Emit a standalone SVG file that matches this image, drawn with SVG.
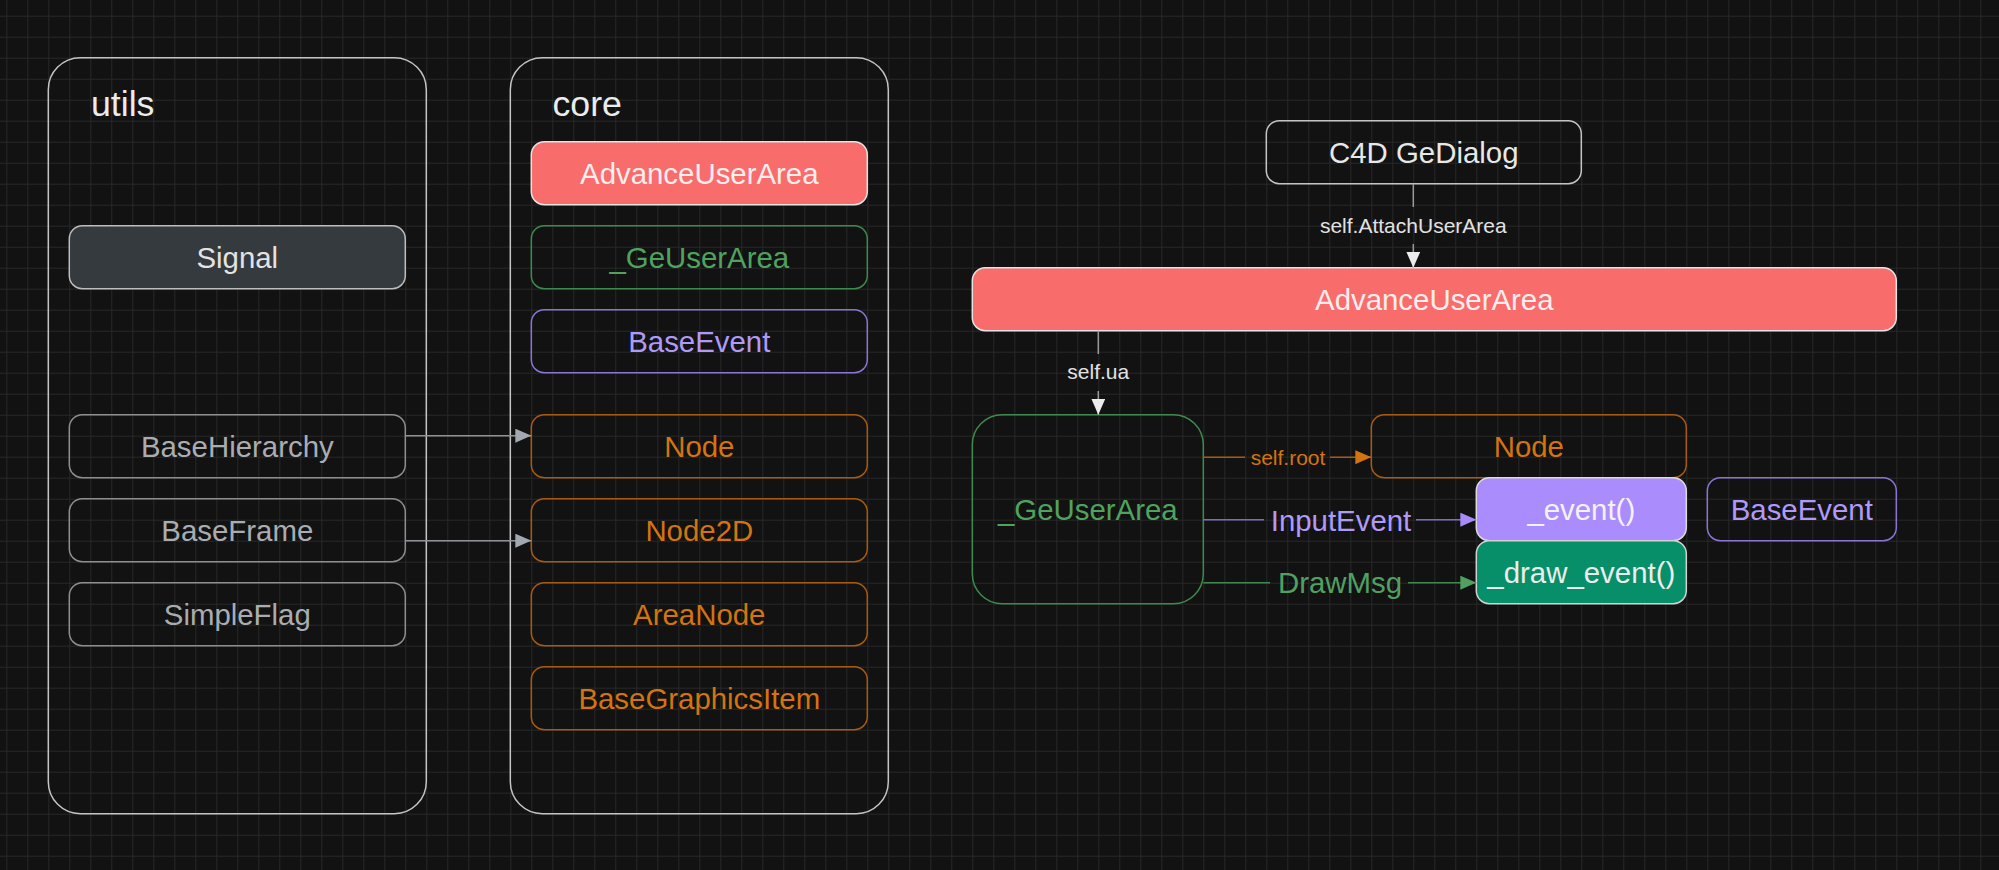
<svg xmlns="http://www.w3.org/2000/svg" width="1999" height="870" viewBox="0 0 1999 870">
<defs>
<pattern id="grid" width="21" height="21" patternUnits="userSpaceOnUse" x="6.3" y="15.7">
<path d="M0 0.5H21M0.5 0V21" fill="none" stroke="#272727" stroke-width="1"/>
</pattern>
<marker id="aGray" viewBox="0 0 16 14" refX="16" refY="7" markerWidth="16" markerHeight="14" markerUnits="userSpaceOnUse" orient="auto"><path d="M0 0L16 7L0 14Z" fill="#a3a8b0"/></marker>
<marker id="aWhite" viewBox="0 0 16 14" refX="16" refY="7" markerWidth="16" markerHeight="14" markerUnits="userSpaceOnUse" orient="auto"><path d="M0 0L16 7L0 14Z" fill="#ececec"/></marker>
<marker id="aOrange" viewBox="0 0 16 14" refX="16" refY="7" markerWidth="16" markerHeight="14" markerUnits="userSpaceOnUse" orient="auto"><path d="M0 0L16 7L0 14Z" fill="#d3740f"/></marker>
<marker id="aPurple" viewBox="0 0 16 14" refX="16" refY="7" markerWidth="16" markerHeight="14" markerUnits="userSpaceOnUse" orient="auto"><path d="M0 0L16 7L0 14Z" fill="#a88bfb"/></marker>
<marker id="aGreen" viewBox="0 0 16 14" refX="16" refY="7" markerWidth="16" markerHeight="14" markerUnits="userSpaceOnUse" orient="auto"><path d="M0 0L16 7L0 14Z" fill="#52a061"/></marker>
</defs>
<style>
text{font-family:"Liberation Sans",Arial,sans-serif;text-anchor:middle}
.t{font-size:29.4px}
.title{font-size:35.7px;text-anchor:start;fill:#ececec}
.lbl{font-size:21px}
.cont{fill:none;stroke:#c4c4c4;stroke-width:1.5}
.gray rect{fill:none;stroke:#8e8e8e;stroke-width:1.5}
.gray text{fill:#a9adb2}
.orange rect{fill:none;stroke:#a85a12;stroke-width:1.5}
.orange text{fill:#d3740f}
.green rect{fill:none;stroke:#3e8a4e;stroke-width:1.5}
.green text{fill:#4fa35f}
.purple rect{fill:none;stroke:#8a74d4;stroke-width:1.5}
.purple text{fill:#b09af8}
.red rect{fill:#f86c6c;stroke:#e4e4e4;stroke-width:1.5}
.red text{fill:#fbeeee}
.edge{fill:none;stroke-width:1.5}
</style>
<rect width="1999" height="870" fill="#121212"/>
<rect width="1999" height="870" fill="url(#grid)"/>

<g id="utils">
<rect class="cont" x="48.3" y="57.7" width="378" height="756" rx="32"/>
<text class="title" x="91" y="116">utils</text>
</g>
<g id="core">
<rect class="cont" x="510.3" y="57.7" width="378" height="756" rx="32"/>
<text class="title" x="552.5" y="116">core</text>
</g>

<g id="signal">
<rect x="69.3" y="225.7" width="336" height="63" rx="13" fill="#353a3f" stroke="#bdbdbd" stroke-width="1.5"/>
<text class="t" x="237.3" y="267.5" fill="#e3e3e3">Signal</text>
</g>
<g id="basehierarchy" class="gray">
<rect x="69.3" y="414.7" width="336" height="63" rx="13"/>
<text class="t" x="237.3" y="456.5">BaseHierarchy</text>
</g>
<g id="baseframe" class="gray">
<rect x="69.3" y="498.7" width="336" height="63" rx="13"/>
<text class="t" x="237.3" y="540.5">BaseFrame</text>
</g>
<g id="simpleflag" class="gray">
<rect x="69.3" y="582.7" width="336" height="63" rx="13"/>
<text class="t" x="237.3" y="624.5">SimpleFlag</text>
</g>

<g id="core-advanceuserarea" class="red">
<rect x="531.3" y="141.7" width="336" height="63" rx="13"/>
<text class="t" x="699.3" y="183.5">AdvanceUserArea</text>
</g>
<g id="core-geuserarea" class="green">
<rect x="531.3" y="225.7" width="336" height="63" rx="13"/>
<text class="t" x="699.3" y="267.5">_GeUserArea</text>
</g>
<g id="core-baseevent" class="purple">
<rect x="531.3" y="309.7" width="336" height="63" rx="13"/>
<text class="t" x="699.3" y="351.5">BaseEvent</text>
</g>
<g id="core-node" class="orange">
<rect x="531.3" y="414.7" width="336" height="63" rx="13"/>
<text class="t" x="699.3" y="456.5">Node</text>
</g>
<g id="core-node2d" class="orange">
<rect x="531.3" y="498.7" width="336" height="63" rx="13"/>
<text class="t" x="699.3" y="540.5">Node2D</text>
</g>
<g id="core-areanode" class="orange">
<rect x="531.3" y="582.7" width="336" height="63" rx="13"/>
<text class="t" x="699.3" y="624.5">AreaNode</text>
</g>
<g id="core-basegraphicsitem" class="orange">
<rect x="531.3" y="666.7" width="336" height="63" rx="13"/>
<text class="t" x="699.3" y="708.5">BaseGraphicsItem</text>
</g>

<g id="c4d-gedialog">
<rect x="1266.3" y="120.7" width="315" height="63" rx="13" fill="none" stroke="#c4c4c4" stroke-width="1.5"/>
<text class="t" x="1423.8" y="162.5" fill="#e8e8e8">C4D GeDialog</text>
</g>
<g id="advanceuserarea" class="red">
<rect x="972.3" y="267.7" width="924" height="63" rx="13"/>
<text class="t" x="1434.3" y="309.5">AdvanceUserArea</text>
</g>
<g id="geuserarea" class="green">
<rect x="972.3" y="414.7" width="231" height="189" rx="30"/>
<text class="t" x="1087.8" y="519.5">_GeUserArea</text>
</g>
<g id="node" class="orange">
<rect x="1371.3" y="414.7" width="315" height="63" rx="13"/>
<text class="t" x="1528.8" y="456.5">Node</text>
</g>
<g id="event">
<rect x="1476.3" y="477.7" width="210" height="63" rx="13" fill="#ab8cfd" stroke="#dcdcdc" stroke-width="1.5"/>
<text class="t" x="1581.3" y="519.5" fill="#f2f2f2">_event()</text>
</g>
<g id="draw-event">
<rect x="1476.3" y="540.7" width="210" height="63" rx="13" fill="#068f68" stroke="#d2d2d2" stroke-width="1.5"/>
<text class="t" x="1581.3" y="582.5" fill="#ececec">_draw_event()</text>
</g>
<g id="baseevent" class="purple">
<rect x="1707.3" y="477.7" width="189" height="63" rx="13"/>
<text class="t" x="1801.8" y="519.5">BaseEvent</text>
</g>

<g id="connectors">
<path class="edge" d="M405.3 435.7H531.3" stroke="#8f9399" marker-end="url(#aGray)"/>
<path class="edge" d="M405.3 540.7H531.3" stroke="#8f9399" marker-end="url(#aGray)"/>

<path class="edge" d="M1413.3 183.7V207" stroke="#9a9a9a"/>
<path class="edge" d="M1413.3 244V267.7" stroke="#9a9a9a" marker-end="url(#aWhite)"/>
<text class="lbl" x="1413.3" y="232.7" fill="#e2e2e2">self.AttachUserArea</text>

<path class="edge" d="M1098.3 330.7V354" stroke="#9a9a9a"/>
<path class="edge" d="M1098.3 391V414.7" stroke="#9a9a9a" marker-end="url(#aWhite)"/>
<text class="lbl" x="1098.3" y="379" fill="#e2e2e2">self.ua</text>

<path class="edge" d="M1203.3 457.2H1245" stroke="#a85a12"/>
<path class="edge" d="M1330 457.2H1371.3" stroke="#a85a12" marker-end="url(#aOrange)"/>
<text class="lbl" x="1288" y="465" fill="#d3740f">self.root</text>

<path class="edge" d="M1203.3 519.7H1264" stroke="#7e6cc4"/>
<path class="edge" d="M1416 519.7H1476.3" stroke="#7e6cc4" marker-end="url(#aPurple)"/>
<text class="t" x="1341" y="531" fill="#b09af8">InputEvent</text>

<path class="edge" d="M1203.3 582.7H1270" stroke="#3e8a4e"/>
<path class="edge" d="M1408 582.7H1476.3" stroke="#3e8a4e" marker-end="url(#aGreen)"/>
<text class="t" x="1340" y="593" fill="#52a061">DrawMsg</text>
</g>
</svg>
